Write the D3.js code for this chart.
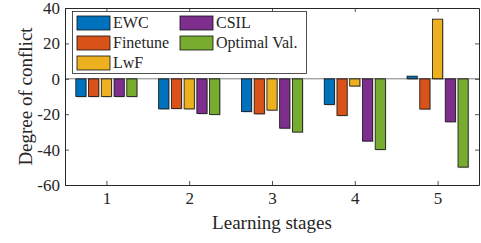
<!DOCTYPE html>
<html>
<head>
<meta charset="utf-8">
<script src="https://cdn.jsdelivr.net/npm/d3@7"></script>
<style>
  body { margin: 0; background: #fff; }
</style>
</head>
<body>
<svg id="chart" width="481" height="243"></svg>
<script>
// data
const stages = [1, 2, 3, 4, 5];
const seriesNames = ['EWC', 'Finetune', 'LwF', 'CSIL', 'Optimal Val.'];
const ewc = [-10, -17, -18.5, -14.5, 1.5];
const finetune = [-10, -16.8, -19.8, -20.7, -17.1];
const lwf = [-10, -17, -17.7, -4.1, 33.7];
const csil = [-10, -19.6, -27.9, -35.2, -24.3];
const optimal = [-10, -20.1, -30.1, -39.9, -49.9];
const yTicks = [-60, -40, -20, 0, 20, 40];

const colors = ['#0072BD', '#D95319', '#EDB120', '#7E2F8E', '#77AC30'];
const allSeries = [ewc, finetune, lwf, csil, optimal];
const serif = "'Liberation Serif', 'Times New Roman', Times, serif";

const svg = d3.select('#chart');
const plotLeft = 65, plotRight = 479, plotTop = 8, plotBottom = 185;

const x = d3.scaleLinear().domain([0.5, 5.5]).range([plotLeft, plotRight]);
const y = d3.scaleLinear().domain([-60, 40]).range([plotBottom, plotTop]);

// grouped bar geometry (MATLAB style)
const n = seriesNames.length;
const groupWidth = Math.min(0.8, n / (n + 1.5));
const step = groupWidth / n;
const barW = (x(1) - x(0)) * step * 0.8;

const g = svg.append('g');

allSeries.forEach((vals, si) => {
  const off = -groupWidth / 2 + step * (si + 0.5);
  vals.forEach((v, i) => {
    const cx = x(stages[i] + off);
    const y0 = y(Math.max(0, v)), y1 = y(Math.min(0, v));
    // soft gray shadow
    g.append('rect')
      .attr('x', cx - barW / 2 + 1).attr('y', y0 + 1)
      .attr('width', barW).attr('height', y1 - y0)
      .attr('fill', '#c8c8c8');
    g.append('rect')
      .attr('x', cx - barW / 2).attr('y', y0)
      .attr('width', barW).attr('height', y1 - y0)
      .attr('fill', colors[si])
      .attr('stroke', '#111').attr('stroke-width', 0.8);
  });
});

// zero baseline
svg.append('line')
  .attr('x1', plotLeft).attr('x2', plotRight)
  .attr('y1', y(0)).attr('y2', y(0))
  .attr('stroke', '#262626').attr('stroke-width', 0.6);

// axes box with inward ticks
const axisColor = '#262626';
const yAxis = d3.axisLeft(y).tickValues(yTicks).tickSizeInner(-4).tickSizeOuter(0).tickPadding(5).tickFormat(d => String(d));
const yAxisR = d3.axisRight(y).tickValues(yTicks).tickSizeInner(-4).tickSizeOuter(0).tickFormat('');
const xAxis = d3.axisBottom(x).tickValues(stages).tickSizeInner(-4).tickSizeOuter(0).tickPadding(7).tickFormat(d => String(d));
const xAxisT = d3.axisTop(x).tickValues(stages).tickSizeInner(-4).tickSizeOuter(0).tickFormat('');

function styleAxis(sel) {
  sel.attr('font-family', serif);
  sel.select('.domain').attr('stroke', axisColor).attr('stroke-width', 1);
  sel.selectAll('.tick line').attr('stroke', axisColor).attr('stroke-width', 0.8);
  sel.selectAll('text').attr('font-size', 17).style('font-family', serif).attr('fill', axisColor);
}

svg.append('g').attr('transform', `translate(${plotLeft},0)`).call(yAxis).call(styleAxis);
svg.append('g').attr('transform', `translate(${plotRight},0)`).call(yAxisR).call(styleAxis);
svg.append('g').attr('transform', `translate(0,${plotBottom})`).call(xAxis).call(styleAxis);
svg.append('g').attr('transform', `translate(0,${plotTop})`).call(xAxisT).call(styleAxis);

// axis labels
svg.append('text')
  .attr('x', (plotLeft + plotRight) / 2).attr('y', 229)
  .attr('text-anchor', 'middle').attr('font-size', 19)
  .style('font-family', serif).attr('fill', axisColor)
  .text('Learning stages');
svg.append('text')
  .attr('transform', `translate(32,${(plotTop + plotBottom) / 2}) rotate(-90)`)
  .attr('text-anchor', 'middle').attr('font-size', 19)
  .style('font-family', serif).attr('fill', axisColor)
  .text('Degree of conflict');

// legend
const legend = svg.append('g');
legend.append('rect')
  .attr('x', 72.5).attr('y', 11.5).attr('width', 234).attr('height', 62)
  .attr('fill', '#fff').attr('stroke', axisColor).attr('stroke-width', 0.8);
const legendPos = [[77, 16], [77, 36], [77, 56], [180, 16], [180, 36]];
seriesNames.forEach((name, i) => {
  const [lx, ly] = legendPos[i];
  legend.append('rect')
    .attr('x', lx).attr('y', ly).attr('width', 33).attr('height', 14)
    .attr('fill', colors[i]).attr('stroke', '#111').attr('stroke-width', 0.8);
  legend.append('text')
    .attr('x', lx + 36).attr('y', ly + 12)
    .attr('font-size', 16)
    .style('font-family', serif).attr('fill', axisColor)
    .text(name);
});
</script>
</body>
</html>
